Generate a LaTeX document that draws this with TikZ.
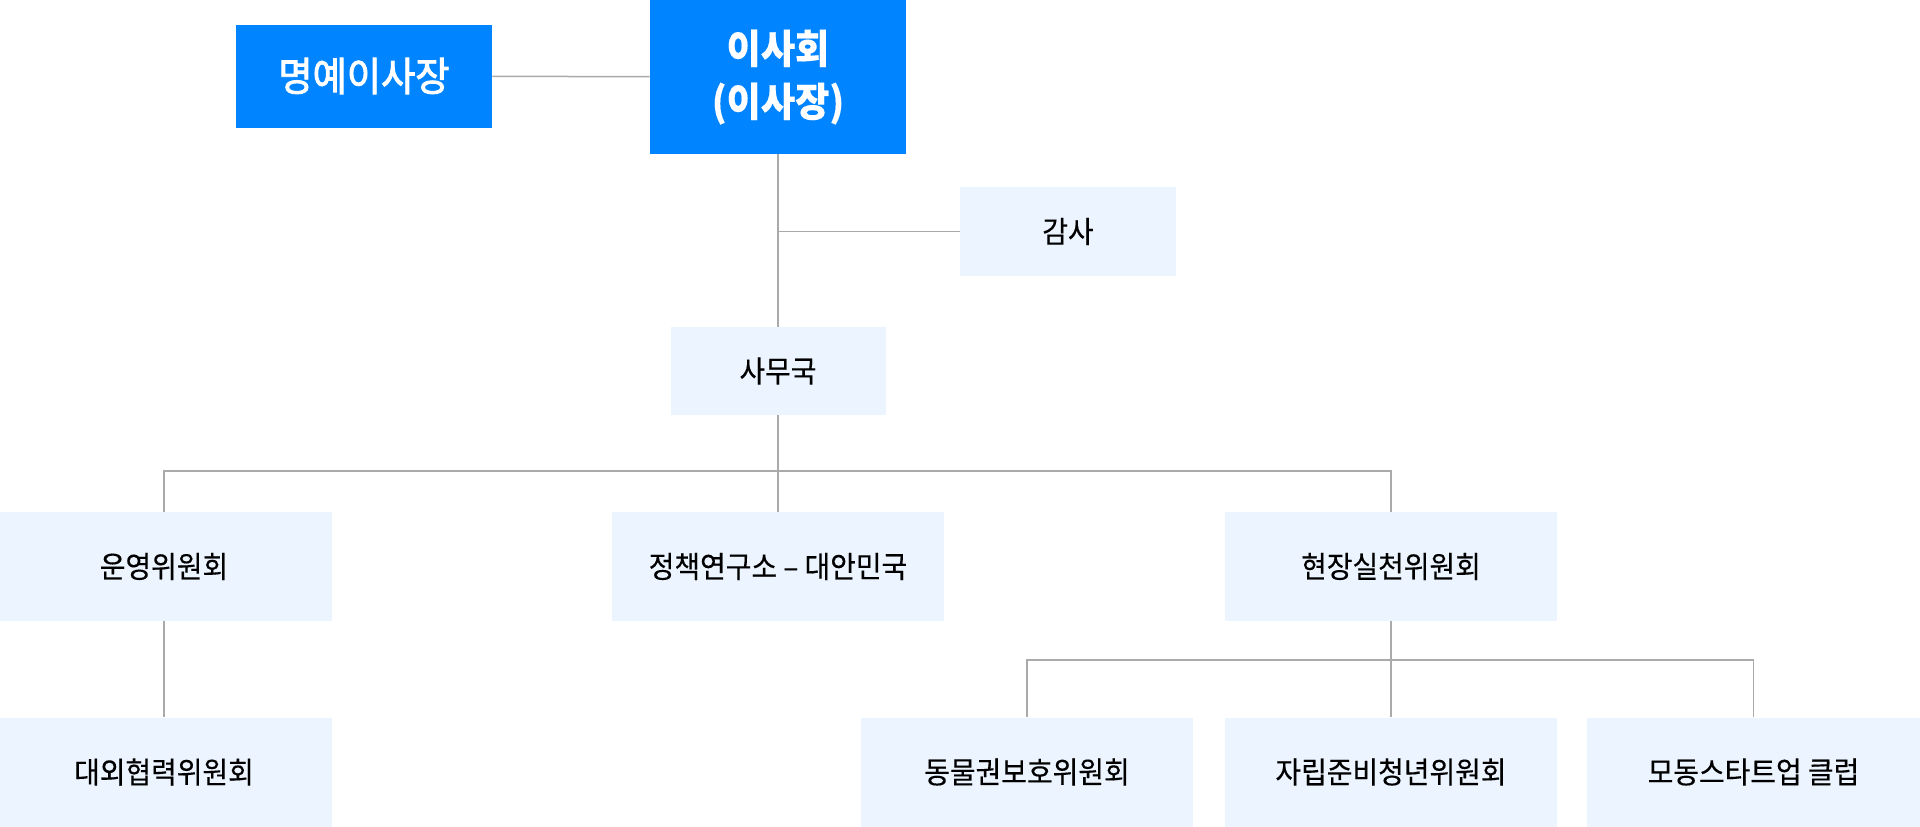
\documentclass[tikz,border=0pt]{standalone}
\usepackage{fontspec}
\usepackage{tikz}
\usetikzlibrary{positioning}
\newfontfamily\krfont[FakeStretch=0.93,FakeBold=0.3]{Noto Sans CJK KR}
\newfontfamily\krmedium[FakeStretch=0.93,FakeBold=2.2]{Noto Sans CJK KR}
\newfontfamily\krbold[FakeStretch=0.93]{Noto Sans CJK KR Bold}
\definecolor{boardblue}{RGB}{0,132,255}
\definecolor{unitfill}{RGB}{236,244,255}
\definecolor{linkgray}{RGB}{170,170,170}

\begin{document}
\begin{tikzpicture}[x=0.5pt,y=-0.5pt]
		\tikzstyle{board}=[fill=boardblue,text=white,inner sep=0pt,font=\krmedium\fontsize{20pt}{26pt}\selectfont,align=center]
		\tikzstyle{boardhead}=[board,font=\krfont\bfseries\fontsize{20pt}{26.5pt}\selectfont]
		\tikzstyle{unit}=[fill=unitfill,text=black,inner sep=0pt,font=\krfont\fontsize{15pt}{18pt}\selectfont]
		\tikzstyle{link}=[draw=linkgray,line width=0.75pt]
		
		\useasboundingbox (0,0) rectangle (1920,826);
		
		\node[board,minimum width=128pt,minimum height=51.5pt] (honor) at (364,76) {명예이사장};
		\node[boardhead,minimum width=128pt,minimum height=77pt] (chair) at (778,77) {이사회\\(이사장)};
		\node[unit,minimum width=108pt,minimum height=44.5pt] (audit) at (1068,231.5) {감사};
		\node[unit,minimum width=107.5pt,minimum height=44pt] (office) at (778,371) {사무국};
		
		\node[unit,minimum width=168pt,minimum height=54.5pt] (ops) at (164,566.5) {운영위원회};
		\node[unit,minimum width=166pt,minimum height=54.5pt] (policy) at (778,566.5) {정책연구소 – 대안민국};
		\node[unit,minimum width=166pt,minimum height=54.5pt] (field) at (1391,566.5) {현장실천위원회};
		
		\node[unit,minimum width=168pt,minimum height=54.5pt] (extern) at (164,772) {대외협력위원회};
		\node[unit,minimum width=166pt,minimum height=54.5pt] (animal) at (1027,772) {동물권보호위원회};
		\node[unit,minimum width=166pt,minimum height=54.5pt] (youth) at (1391,772) {자립준비청년위원회};
		\node[unit,minimum width=166.5pt,minimum height=54.5pt] (club) at (1753.5,772) {모동스타트업 클럽};
		
		\coordinate (split1) at (778,471);
		\coordinate (split2) at (1391,660);
		
		\path[link]
		(honor) edge (chair)
		(chair) edge (office)
		(audit.west) edge (audit.west -| chair)
		(office) edge (policy)
		(ops) edge (extern)
		(field) edge (youth);
		\draw[link] (ops) |- (split1) -| (field);
		\draw[link] (animal) |- (split2) -| (club);
	
	\end{tikzpicture}
\end{document}
